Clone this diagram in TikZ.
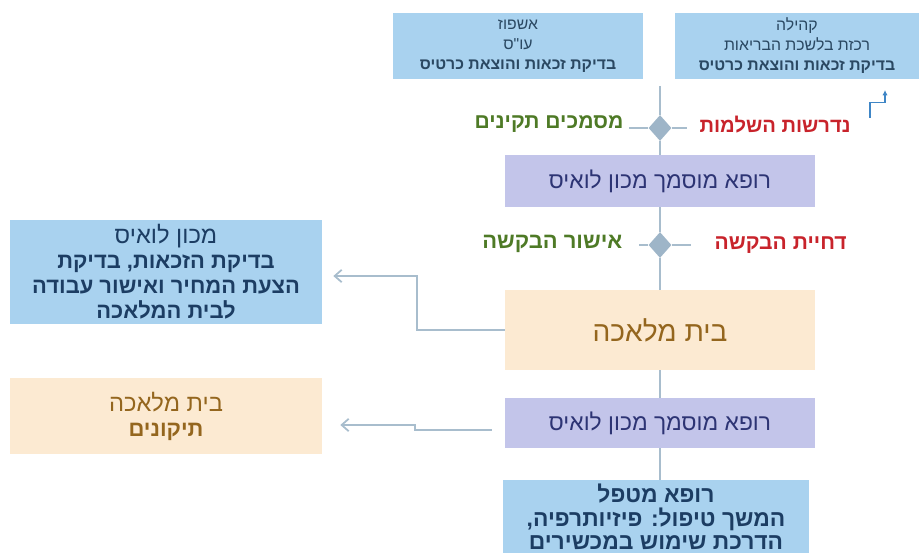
\documentclass[tikz,border=0pt]{standalone}
\usepackage{fontspec}
\setmainfont{Liberation Sans}
\newfontfamily\hebfont[Script=Hebrew]{Liberation Sans}
\TeXXeTstate=1
\usetikzlibrary{arrows.meta,shapes.geometric,calc}
\newcommand{\heb}[1]{\beginR#1\endR}
\definecolor{boxblue}{HTML}{A9D2EF}
\definecolor{boxlila}{HTML}{C3C5EA}
\definecolor{boxpeach}{HTML}{FCEAD2}
\definecolor{txtslate}{HTML}{2A4862}
\definecolor{txtblue}{HTML}{1C3D63}
\definecolor{txtnavy}{HTML}{2D3474}
\definecolor{txtbrown}{HTML}{94661E}
\definecolor{okgreen}{HTML}{4E7A26}
\definecolor{nored}{HTML}{C8232B}
\definecolor{linec}{HTML}{A8BDCD}
\definecolor{diamc}{HTML}{9EB5C8}
\definecolor{tipblue}{HTML}{3F86C6}

\begin{document}
\begin{tikzpicture}[x=0.02cm,y=-0.02cm,
  every node/.style={font=\hebfont,inner sep=2pt,align=center},
  box/.style={minimum width=6.2cm,minimum height=1.04cm},
  small/.style={font=\hebfont\fontsize{9}{11.4}\selectfont},
  mid/.style={font=\hebfont\fontsize{12.5}{14.2}\selectfont},
  tag/.style={font=\hebfont\bfseries\fontsize{12}{14}\selectfont,inner sep=3pt},
  knot/.style={diamond,fill=diamc,minimum width=0.46cm,minimum height=0.52cm,inner sep=0pt},
  link/.style={draw=linec,line width=1pt},
  arr/.style={link,-{Straight Barb[length=4pt,width=7pt]}}]
\useasboundingbox (0,0) rectangle (920,554);
\node[box,small,fill=boxblue,text=txtslate,minimum width=5cm,minimum height=1.34cm] (n0) at (518,46)
  {\heb{אשפוז}\\\heb{עו"ס}\\\textbf{\heb{בדיקת זכאות והוצאת כרטיס}}};
\node[box,small,fill=boxblue,text=txtslate,minimum width=4.9cm,minimum height=1.34cm] (n1) at (797,46)
  {\heb{קהילה}\\\heb{רכזת בלשכת הבריאות}\\\textbf{\heb{בדיקת זכאות והוצאת כרטיס}}};
\coordinate (c0) at (660,86);
\node[knot] (n2) at (660,128) {};
\node[tag,text=okgreen,anchor=east] (n3) at (629,124) {\heb{מסמכים תקינים}};
\node[tag,text=nored,anchor=west,font=\hebfont\bfseries\fontsize{11.5}{14}\selectfont] (n4) at (694,125) {\heb{נדרשות השלמות}};
\coordinate (c1) at (870,118);
\coordinate (c2) at (885,90);
\node[box,text=txtnavy,fill=boxlila,font=\hebfont\fontsize{13}{15}\selectfont] (n5) at (660,181) {\heb{רופא מוסמך מכון לואיס}};
\node[knot] (n6) at (660,245) {};
\node[tag,text=okgreen,anchor=east,font=\hebfont\bfseries\fontsize{12.5}{14}\selectfont] (n7) at (628,244) {\heb{אישור הבקשה}};
\node[tag,text=nored,anchor=west] (n8) at (709,245) {\heb{דחיית הבקשה}};
\node[box,text=txtbrown,fill=boxpeach,minimum height=1.6cm,font=\hebfont\fontsize{16}{18}\selectfont] (n9) at (660,330) {\heb{בית מלאכה}};
\node[box,mid,fill=boxblue,text=txtblue,minimum width=6.24cm,minimum height=2.1cm] (n10) at (166,272)
  {{\fontsize{13.5}{14.2}\selectfont\heb{מכון לואיס}}\\\textbf{\heb{בדיקת הזכאות, בדיקת}}\\\textbf{\heb{הצעת המחיר ואישור עבודה}}\\\textbf{\heb{לבית המלאכה}}};
\node[box,text=txtnavy,fill=boxlila,minimum height=1cm,font=\hebfont\fontsize{13}{15}\selectfont] (n11) at (660,423) {\heb{רופא מוסמך מכון לואיס}};
\node[box,mid,fill=boxpeach,text=txtbrown,minimum width=6.24cm,minimum height=1.54cm] (n12) at (166,416)
  {{\fontsize{13.5}{15.5}\selectfont\heb{בית מלאכה}}\\\textbf{\heb{תיקונים}}};
\node[box,fill=boxblue,text=txtblue,minimum width=6.14cm,minimum height=1.46cm,anchor=north,inner ysep=1pt,
  font=\hebfont\bfseries\fontsize{13}{13.3}\selectfont] (n13) at (656,480)
  {\heb{רופא מטפל}\\\heb{המשך טיפול: פיזיותרפיה,}\\\heb{הדרכת שימוש במכשירים}};
\draw[link] (c0) -- (n2.north);
\draw[link] (n2.south) -- (n5.north);
\draw[link] (n2.west) -- (n2.west -| n3.east);
\draw[link] (n2.east) -- ([xshift=-4pt]n2.east -| n4.west);
\draw[draw=tipblue,line width=0.8pt,-{Latex[length=3pt,width=3pt]}] (c1) |- ($(c1)!0.55!(c2)$) -| (c2);
\draw[link] (n5.south) -- (n6.north);
\draw[link] (n6.south) -- (n9.north);
\draw[link] (n6.west) -- ([xshift=6pt]n6.west -| n7.east);
\draw[link] (n6.east) -- ([xshift=-10pt]n6.east -| n8.west);
\draw[arr] (n9.west) -- ++(-88,0) |- ([xshift=0.22cm,yshift=-0.08cm]n10.east);
\draw[link] (n9.south) -- (n11.north);
\draw[arr] ([xshift=-0.26cm,yshift=-0.14cm]n11.west) -- ++(-77,0) |- ([xshift=0.36cm,yshift=-0.18cm]n12.east);
\draw[link] (n11.south) -- (n11.south |- n13.north);
\end{tikzpicture}
\end{document}
